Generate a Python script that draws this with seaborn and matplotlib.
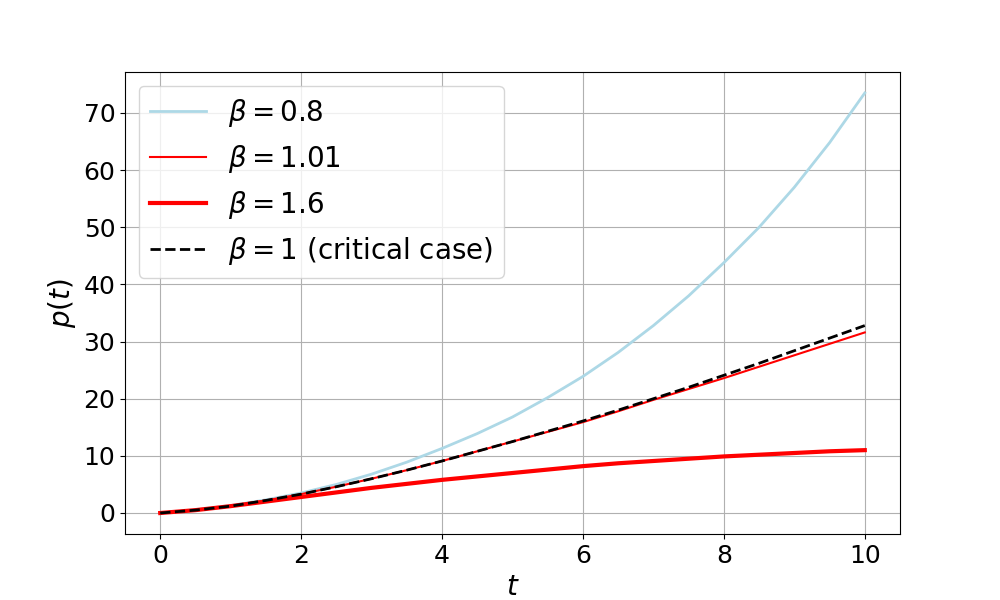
import numpy as np
import matplotlib
matplotlib.use("Agg")
import matplotlib.pyplot as plt
import seaborn as sns

# values
t = [0, 0.5, 1, 1.5, 2, 2.5, 3, 3.5, 4, 4.5, 5, 5.5, 6, 6.5, 7, 7.5, 8, 8.5, 9, 9.5, 10]

p_beta_08 = [0.0, 0.55, 1.3, 2.3, 3.5, 5.0, 6.8, 8.9, 11.3, 13.9, 16.8, 20.2, 23.9, 28.1, 32.8, 38.0,
             43.8, 50.0, 57.0, 64.8, 73.5]
p_beta_101 = [0.0, 0.5, 1.2, 2.2, 3.3, 4.6, 6.0, 7.5, 9.1, 10.8, 12.5, 14.2, 15.9, 17.8, 19.8, 21.7,
              23.6, 25.6, 27.6, 29.6, 31.6]
p_beta_16 = [0.0, 0.5, 1.2, 2.0, 2.8, 3.6, 4.4, 5.1, 5.8, 6.4, 7.0, 7.6, 8.2, 8.7, 9.1, 9.5,
             9.9, 10.2, 10.5, 10.8, 11.0]
p_beta_1 = [0.0, 0.5, 1.2, 2.2, 3.3, 4.6, 6.0, 7.5, 9.1, 10.8, 12.5, 14.3, 16.1, 18.0, 20.0, 22.0,
            24.1, 26.2, 28.4, 30.6, 32.8]

labels = [r"$\beta = 0.8$", r"$\beta = 1.01$", r"$\beta = 1.6$", r"$\beta = 1$ (critical case)"]

fig, ax = plt.subplots(figsize=(10, 6), dpi=100)

sns.lineplot(x=t, y=p_beta_08, ax=ax, color="lightblue", linewidth=2, label=labels[0])
sns.lineplot(x=t, y=p_beta_101, ax=ax, color="red", linewidth=1.5, label=labels[1])
sns.lineplot(x=t, y=p_beta_16, ax=ax, color="red", linewidth=3, label=labels[2])
sns.lineplot(x=t, y=p_beta_1, ax=ax, color="black", linewidth=2, linestyle="--", label=labels[3])

ax.set_xlabel("$t$", fontsize=20)
ax.set_ylabel("$p(t)$", fontsize=20)
ax.tick_params(labelsize=18)
ax.grid(True)
ax.legend(loc="upper left", fontsize=20)

plt.savefig("out.png")
